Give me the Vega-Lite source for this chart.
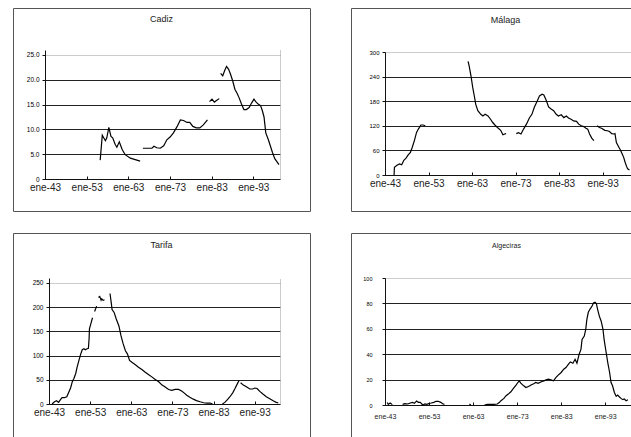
{
  "$schema": "https://vega.github.io/schema/vega-lite/v6.json",
  "padding": {"left": 12, "top": 7, "right": 0, "bottom": 0},
  "bounds": "flush",
  "columns": 2,
  "spacing": {"row": 22, "column": 41},
  "config": {
    "font": "Liberation Sans",
    "view": {"stroke": "#555", "strokeWidth": 1},
    "title": {"font": "Liberation Sans", "fontWeight": "normal", "color": "#222", "anchor": "middle"},
    "axis": {
      "domainColor": "#111", "domainWidth": 1, "tickColor": "#111", "tickWidth": 1,
      "labelFont": "Liberation Sans", "labelColor": "#222", "title": null,
      "gridColor": "#222", "gridWidth": 1
    },
    "line": {"color": "#000", "strokeWidth": 1.2}
  },
  "datasets": {
    "cadiz": [
      {"d": "1956-04-01", "v": 3.8, "s": 1}, {"d": "1956-10-01", "v": 8.8, "s": 1}, {"d": "1957-02-01", "v": 8.3, "s": 1}, {"d": "1957-07-01", "v": 7.7, "s": 1}, {"d": "1957-11-01", "v": 8.3, "s": 1}, {"d": "1958-05-01", "v": 10.4, "s": 1}, {"d": "1958-11-01", "v": 8.6, "s": 1}, {"d": "1959-04-01", "v": 8.3, "s": 1}, {"d": "1959-11-01", "v": 7.0, "s": 1}, {"d": "1960-04-01", "v": 6.4, "s": 1}, {"d": "1960-11-01", "v": 7.5, "s": 1}, {"d": "1961-07-01", "v": 6.0, "s": 1}, {"d": "1962-04-01", "v": 4.9, "s": 1}, {"d": "1963-07-01", "v": 4.2, "s": 1}, {"d": "1964-09-01", "v": 3.9, "s": 1}, {"d": "1965-11-01", "v": 3.6, "s": 1},
      {"d": "1966-07-01", "v": 6.2, "s": 2}, {"d": "1968-09-01", "v": 6.2, "s": 2}, {"d": "1969-03-01", "v": 6.6, "s": 2}, {"d": "1969-11-01", "v": 6.3, "s": 2}, {"d": "1970-09-01", "v": 6.2, "s": 2}, {"d": "1971-07-01", "v": 6.7, "s": 2}, {"d": "1972-04-01", "v": 7.9, "s": 2}, {"d": "1973-02-01", "v": 8.5, "s": 2}, {"d": "1973-11-01", "v": 9.3, "s": 2}, {"d": "1974-09-01", "v": 10.5, "s": 2}, {"d": "1975-07-01", "v": 11.9, "s": 2}, {"d": "1976-04-01", "v": 11.8, "s": 2}, {"d": "1977-02-01", "v": 11.4, "s": 2}, {"d": "1977-10-01", "v": 11.4, "s": 2}, {"d": "1978-07-01", "v": 10.6, "s": 2}, {"d": "1979-05-01", "v": 10.3, "s": 2}, {"d": "1980-03-01", "v": 10.3, "s": 2}, {"d": "1981-01-01", "v": 10.9, "s": 2}, {"d": "1982-01-01", "v": 11.9, "s": 2},
      {"d": "1982-07-01", "v": 15.6, "s": 3}, {"d": "1983-02-01", "v": 16.1, "s": 3}, {"d": "1983-09-01", "v": 15.5, "s": 3}, {"d": "1984-03-01", "v": 15.8, "s": 3}, {"d": "1984-11-01", "v": 16.2, "s": 3},
      {"d": "1985-03-01", "v": 21.3, "s": 4}, {"d": "1985-09-01", "v": 20.8, "s": 4}, {"d": "1986-03-01", "v": 21.9, "s": 4}, {"d": "1986-08-01", "v": 22.7, "s": 4}, {"d": "1987-02-01", "v": 22.1, "s": 4}, {"d": "1987-08-01", "v": 21.0, "s": 4}, {"d": "1988-02-01", "v": 19.7, "s": 4}, {"d": "1988-08-01", "v": 18.1, "s": 4}, {"d": "1989-03-01", "v": 17.2, "s": 4}, {"d": "1989-08-01", "v": 16.4, "s": 4}, {"d": "1990-03-01", "v": 15.1, "s": 4}, {"d": "1990-10-01", "v": 14.0, "s": 4}, {"d": "1991-05-01", "v": 14.0, "s": 4}, {"d": "1992-01-01", "v": 14.4, "s": 4}, {"d": "1992-08-01", "v": 15.3, "s": 4}, {"d": "1993-03-01", "v": 16.1, "s": 4}, {"d": "1993-08-01", "v": 15.6, "s": 4}, {"d": "1994-03-01", "v": 15.1, "s": 4}, {"d": "1994-10-01", "v": 14.8, "s": 4}, {"d": "1995-03-01", "v": 13.8, "s": 4}, {"d": "1995-08-01", "v": 12.5, "s": 4}, {"d": "1996-01-01", "v": 9.3, "s": 4}, {"d": "1996-08-01", "v": 8.0, "s": 4}, {"d": "1997-02-01", "v": 6.7, "s": 4}, {"d": "1997-08-01", "v": 5.4, "s": 4}, {"d": "1998-03-01", "v": 4.1, "s": 4}, {"d": "1998-10-01", "v": 3.4, "s": 4}, {"d": "1999-03-01", "v": 2.9, "s": 4}
    ],
    "malaga": [
      {"d": "1945-02-01", "v": 0, "s": 1}, {"d": "1945-03-01", "v": 19, "s": 1}, {"d": "1945-10-01", "v": 24, "s": 1}, {"d": "1946-05-01", "v": 27, "s": 1}, {"d": "1946-11-01", "v": 25, "s": 1}, {"d": "1947-05-01", "v": 36, "s": 1}, {"d": "1947-11-01", "v": 41, "s": 1}, {"d": "1948-05-01", "v": 49, "s": 1}, {"d": "1948-11-01", "v": 55, "s": 1}, {"d": "1949-04-01", "v": 67, "s": 1}, {"d": "1949-10-01", "v": 84, "s": 1}, {"d": "1950-04-01", "v": 104, "s": 1}, {"d": "1950-09-01", "v": 112, "s": 1}, {"d": "1951-04-01", "v": 122, "s": 1}, {"d": "1951-10-01", "v": 122, "s": 1}, {"d": "1952-04-01", "v": 120, "s": 1},
      {"d": "1962-02-01", "v": 277, "s": 2}, {"d": "1962-05-01", "v": 266, "s": 2}, {"d": "1962-10-01", "v": 242, "s": 2}, {"d": "1963-03-01", "v": 213, "s": 2}, {"d": "1963-08-01", "v": 189, "s": 2}, {"d": "1963-11-01", "v": 173, "s": 2}, {"d": "1964-05-01", "v": 157, "s": 2}, {"d": "1965-01-01", "v": 148, "s": 2}, {"d": "1965-07-01", "v": 144, "s": 2}, {"d": "1966-01-01", "v": 148, "s": 2}, {"d": "1966-09-01", "v": 144, "s": 2}, {"d": "1967-04-01", "v": 136, "s": 2}, {"d": "1967-10-01", "v": 128, "s": 2}, {"d": "1968-04-01", "v": 122, "s": 2}, {"d": "1968-11-01", "v": 116, "s": 2}, {"d": "1969-08-01", "v": 109, "s": 2}, {"d": "1970-02-01", "v": 98, "s": 2}, {"d": "1970-07-01", "v": 100, "s": 2}, {"d": "1970-11-01", "v": 101, "s": 2},
      {"d": "1973-03-01", "v": 101, "s": 3}, {"d": "1973-09-01", "v": 103, "s": 3}, {"d": "1974-04-01", "v": 100, "s": 3}, {"d": "1974-11-01", "v": 112, "s": 3}, {"d": "1975-07-01", "v": 124, "s": 3}, {"d": "1976-03-01", "v": 139, "s": 3}, {"d": "1976-10-01", "v": 148, "s": 3}, {"d": "1977-05-01", "v": 166, "s": 3}, {"d": "1978-01-01", "v": 181, "s": 3}, {"d": "1978-07-01", "v": 193, "s": 3}, {"d": "1979-02-01", "v": 197, "s": 3}, {"d": "1979-07-01", "v": 195, "s": 3}, {"d": "1980-02-01", "v": 181, "s": 3}, {"d": "1980-08-01", "v": 166, "s": 3}, {"d": "1981-03-01", "v": 161, "s": 3}, {"d": "1981-10-01", "v": 157, "s": 3}, {"d": "1982-05-01", "v": 148, "s": 3}, {"d": "1982-11-01", "v": 144, "s": 3}, {"d": "1983-07-01", "v": 147, "s": 3}, {"d": "1984-02-01", "v": 140, "s": 3}, {"d": "1984-09-01", "v": 144, "s": 3}, {"d": "1985-03-01", "v": 139, "s": 3}, {"d": "1985-10-01", "v": 136, "s": 3}, {"d": "1986-05-01", "v": 132, "s": 3}, {"d": "1987-01-01", "v": 131, "s": 3}, {"d": "1987-07-01", "v": 124, "s": 3}, {"d": "1988-02-01", "v": 120, "s": 3}, {"d": "1988-09-01", "v": 118, "s": 3}, {"d": "1989-03-01", "v": 114, "s": 3}, {"d": "1989-08-01", "v": 112, "s": 3}, {"d": "1990-01-01", "v": 100, "s": 3}, {"d": "1990-07-01", "v": 90, "s": 3}, {"d": "1991-01-01", "v": 84, "s": 3},
      {"d": "1991-10-01", "v": 120, "s": 4}, {"d": "1992-04-01", "v": 116, "s": 4}, {"d": "1992-10-01", "v": 114, "s": 4}, {"d": "1993-07-01", "v": 109, "s": 4}, {"d": "1994-02-01", "v": 108, "s": 4}, {"d": "1994-08-01", "v": 106, "s": 4}, {"d": "1995-02-01", "v": 101, "s": 4}, {"d": "1995-08-01", "v": 100, "s": 4}, {"d": "1995-11-01", "v": 101, "s": 4}, {"d": "1996-03-01", "v": 79, "s": 4}, {"d": "1996-09-01", "v": 69, "s": 4}, {"d": "1997-02-01", "v": 61, "s": 4}, {"d": "1997-07-01", "v": 51, "s": 4}, {"d": "1997-11-01", "v": 43, "s": 4}, {"d": "1998-03-01", "v": 31, "s": 4}, {"d": "1998-07-01", "v": 21, "s": 4}, {"d": "1998-10-01", "v": 15, "s": 4}, {"d": "1999-03-01", "v": 12, "s": 4}
    ],
    "tarifa": [
      {"d": "1943-10-01", "v": 0, "s": 1}, {"d": "1944-05-01", "v": 4.6, "s": 1}, {"d": "1944-11-01", "v": 6.6, "s": 1}, {"d": "1945-05-01", "v": 3.3, "s": 1}, {"d": "1945-10-01", "v": 8.6, "s": 1}, {"d": "1946-03-01", "v": 13, "s": 1}, {"d": "1946-10-01", "v": 13, "s": 1}, {"d": "1947-05-01", "v": 15, "s": 1}, {"d": "1947-10-01", "v": 23, "s": 1}, {"d": "1948-04-01", "v": 33, "s": 1}, {"d": "1948-09-01", "v": 46, "s": 1}, {"d": "1949-02-01", "v": 53, "s": 1}, {"d": "1949-07-01", "v": 63, "s": 1}, {"d": "1949-11-01", "v": 76, "s": 1}, {"d": "1950-04-01", "v": 89, "s": 1}, {"d": "1950-09-01", "v": 102, "s": 1}, {"d": "1951-02-01", "v": 112, "s": 1}, {"d": "1951-07-01", "v": 114, "s": 1}, {"d": "1951-11-01", "v": 112, "s": 1}, {"d": "1952-04-01", "v": 114, "s": 1}, {"d": "1952-08-01", "v": 115, "s": 1}, {"d": "1952-10-01", "v": 135, "s": 1}, {"d": "1952-11-01", "v": 155, "s": 1}, {"d": "1953-04-01", "v": 168, "s": 1}, {"d": "1953-08-01", "v": 178, "s": 1},
      {"d": "1954-02-01", "v": 191, "s": 2}, {"d": "1954-08-01", "v": 202, "s": 2},
      {"d": "1955-01-01", "v": 220, "s": 3}, {"d": "1955-05-01", "v": 222, "s": 3}, {"d": "1955-09-01", "v": 214, "s": 3}, {"d": "1955-11-01", "v": 217, "s": 3}, {"d": "1956-03-01", "v": 214, "s": 3}, {"d": "1956-07-01", "v": 215, "s": 3},
      {"d": "1957-11-01", "v": 228, "s": 4}, {"d": "1958-03-01", "v": 207, "s": 4}, {"d": "1958-05-01", "v": 195, "s": 4}, {"d": "1958-11-01", "v": 189, "s": 4}, {"d": "1959-05-01", "v": 176, "s": 4}, {"d": "1960-01-01", "v": 161, "s": 4}, {"d": "1960-07-01", "v": 141, "s": 4}, {"d": "1961-01-01", "v": 125, "s": 4}, {"d": "1961-08-01", "v": 110, "s": 4}, {"d": "1962-02-01", "v": 103, "s": 4}, {"d": "1962-08-01", "v": 90, "s": 4}, {"d": "1963-03-01", "v": 86, "s": 4}, {"d": "1964-01-01", "v": 81, "s": 4}, {"d": "1964-10-01", "v": 76, "s": 4}, {"d": "1965-08-01", "v": 71, "s": 4}, {"d": "1966-05-01", "v": 66, "s": 4}, {"d": "1967-03-01", "v": 61, "s": 4}, {"d": "1968-01-01", "v": 56, "s": 4}, {"d": "1968-10-01", "v": 51, "s": 4}, {"d": "1969-09-01", "v": 46, "s": 4}, {"d": "1970-07-01", "v": 39, "s": 4}, {"d": "1971-04-01", "v": 35, "s": 4}, {"d": "1972-02-01", "v": 30, "s": 4}, {"d": "1972-11-01", "v": 28, "s": 4}, {"d": "1973-09-01", "v": 30, "s": 4}, {"d": "1974-07-01", "v": 30, "s": 4}, {"d": "1975-04-01", "v": 27, "s": 4}, {"d": "1975-11-01", "v": 23, "s": 4}, {"d": "1976-07-01", "v": 18, "s": 4}, {"d": "1977-04-01", "v": 14, "s": 4}, {"d": "1978-02-01", "v": 10, "s": 4}, {"d": "1978-11-01", "v": 7, "s": 4}, {"d": "1979-10-01", "v": 4.6, "s": 4}, {"d": "1980-08-01", "v": 2.6, "s": 4}, {"d": "1981-05-01", "v": 2, "s": 4}, {"d": "1982-03-01", "v": 2, "s": 4}, {"d": "1982-10-01", "v": 0, "s": 4},
      {"d": "1985-03-01", "v": 0, "s": 5}, {"d": "1985-10-01", "v": 3.3, "s": 5}, {"d": "1986-05-01", "v": 8.6, "s": 5}, {"d": "1987-01-01", "v": 15, "s": 5}, {"d": "1987-09-01", "v": 23, "s": 5}, {"d": "1988-03-01", "v": 31, "s": 5}, {"d": "1988-10-01", "v": 41, "s": 5}, {"d": "1989-04-01", "v": 49, "s": 5},
      {"d": "1989-08-01", "v": 44, "s": 6}, {"d": "1990-04-01", "v": 39, "s": 6}, {"d": "1991-02-01", "v": 35, "s": 6}, {"d": "1991-11-01", "v": 31, "s": 6}, {"d": "1992-07-01", "v": 31, "s": 6}, {"d": "1993-02-01", "v": 33, "s": 6}, {"d": "1993-08-01", "v": 32, "s": 6}, {"d": "1994-04-01", "v": 26, "s": 6}, {"d": "1995-02-01", "v": 20, "s": 6}, {"d": "1995-11-01", "v": 15, "s": 6}, {"d": "1996-09-01", "v": 11, "s": 6}, {"d": "1997-07-01", "v": 6.6, "s": 6}, {"d": "1998-04-01", "v": 3.3, "s": 6}, {"d": "1998-10-01", "v": 2, "s": 6}
    ],
    "algeciras": [
      {"d": "1943-07-01", "v": 2, "s": 1}, {"d": "1943-10-01", "v": 0.5, "s": 1}, {"d": "1944-03-01", "v": 1.6, "s": 1}, {"d": "1944-09-01", "v": 0.3, "s": 1},
      {"d": "1947-01-01", "v": 0.5, "s": 2}, {"d": "1947-07-01", "v": 1, "s": 2}, {"d": "1948-03-01", "v": 0.8, "s": 2}, {"d": "1948-10-01", "v": 1.6, "s": 2}, {"d": "1949-04-01", "v": 2.1, "s": 2}, {"d": "1949-09-01", "v": 1.3, "s": 2}, {"d": "1950-03-01", "v": 3.1, "s": 2}, {"d": "1950-08-01", "v": 2.1, "s": 2}, {"d": "1951-01-01", "v": 2.1, "s": 2}, {"d": "1951-08-01", "v": 0, "s": 2}, {"d": "1952-02-01", "v": 0.8, "s": 2}, {"d": "1952-07-01", "v": 0.5, "s": 2}, {"d": "1953-02-01", "v": 1.3, "s": 2}, {"d": "1953-07-01", "v": 1.6, "s": 2}, {"d": "1954-02-01", "v": 2.1, "s": 2}, {"d": "1954-08-01", "v": 2.9, "s": 2}, {"d": "1955-02-01", "v": 2.9, "s": 2}, {"d": "1955-09-01", "v": 2.1, "s": 2}, {"d": "1956-02-01", "v": 1, "s": 2}, {"d": "1956-07-01", "v": 0.5, "s": 2},
      {"d": "1962-03-01", "v": 0.8, "s": 3}, {"d": "1962-07-01", "v": 0, "s": 3},
      {"d": "1965-08-01", "v": 0, "s": 4}, {"d": "1966-04-01", "v": 0.5, "s": 4}, {"d": "1967-02-01", "v": 0.5, "s": 4}, {"d": "1967-10-01", "v": 0.5, "s": 4}, {"d": "1968-07-01", "v": 0.8, "s": 4}, {"d": "1969-01-01", "v": 2.1, "s": 4}, {"d": "1969-05-01", "v": 3.4, "s": 4}, {"d": "1970-01-01", "v": 5.2, "s": 4}, {"d": "1970-07-01", "v": 7.3, "s": 4}, {"d": "1971-01-01", "v": 8.6, "s": 4}, {"d": "1971-08-01", "v": 10.4, "s": 4}, {"d": "1972-03-01", "v": 13, "s": 4}, {"d": "1972-10-01", "v": 15.7, "s": 4}, {"d": "1973-03-01", "v": 17.7, "s": 4}, {"d": "1973-07-01", "v": 19, "s": 4}, {"d": "1973-11-01", "v": 17.2, "s": 4}, {"d": "1974-07-01", "v": 15.1, "s": 4}, {"d": "1975-01-01", "v": 13.8, "s": 4}, {"d": "1975-08-01", "v": 14.6, "s": 4}, {"d": "1976-03-01", "v": 15.7, "s": 4}, {"d": "1976-10-01", "v": 16.7, "s": 4}, {"d": "1977-04-01", "v": 17.7, "s": 4}, {"d": "1977-10-01", "v": 17, "s": 4}, {"d": "1978-07-01", "v": 18.3, "s": 4}, {"d": "1979-02-01", "v": 19, "s": 4}, {"d": "1979-08-01", "v": 19.8, "s": 4}, {"d": "1980-02-01", "v": 20.4, "s": 4}, {"d": "1980-09-01", "v": 19.8, "s": 4}, {"d": "1981-04-01", "v": 19, "s": 4}, {"d": "1981-11-01", "v": 21.7, "s": 4}, {"d": "1982-05-01", "v": 23.5, "s": 4}, {"d": "1983-01-01", "v": 25.6, "s": 4}, {"d": "1983-08-01", "v": 28.2, "s": 4}, {"d": "1984-02-01", "v": 29.5, "s": 4}, {"d": "1984-09-01", "v": 32.1, "s": 4}, {"d": "1985-02-01", "v": 33.9, "s": 4}, {"d": "1985-09-01", "v": 32.9, "s": 4}, {"d": "1986-03-01", "v": 36, "s": 4}, {"d": "1986-08-01", "v": 32.9, "s": 4}, {"d": "1987-02-01", "v": 40, "s": 4}, {"d": "1987-07-01", "v": 43.8, "s": 4}, {"d": "1987-10-01", "v": 51.7, "s": 4}, {"d": "1988-04-01", "v": 54.3, "s": 4}, {"d": "1988-08-01", "v": 59.5, "s": 4}, {"d": "1988-11-01", "v": 67.3, "s": 4}, {"d": "1989-03-01", "v": 73, "s": 4}, {"d": "1989-07-01", "v": 75.2, "s": 4}, {"d": "1989-10-01", "v": 76.5, "s": 4}, {"d": "1990-02-01", "v": 78.3, "s": 4}, {"d": "1990-05-01", "v": 80.4, "s": 4}, {"d": "1990-09-01", "v": 80.9, "s": 4}, {"d": "1991-01-01", "v": 79.9, "s": 4}, {"d": "1991-04-01", "v": 75.7, "s": 4}, {"d": "1991-09-01", "v": 70, "s": 4}, {"d": "1992-02-01", "v": 66, "s": 4}, {"d": "1992-07-01", "v": 59.5, "s": 4}, {"d": "1992-10-01", "v": 51.7, "s": 4}, {"d": "1993-03-01", "v": 42.5, "s": 4}, {"d": "1993-08-01", "v": 33.4, "s": 4}, {"d": "1994-01-01", "v": 25.6, "s": 4}, {"d": "1994-05-01", "v": 17.7, "s": 4}, {"d": "1994-09-01", "v": 15.1, "s": 4}, {"d": "1995-02-01", "v": 9.9, "s": 4}, {"d": "1995-07-01", "v": 6.8, "s": 4}, {"d": "1995-11-01", "v": 7.8, "s": 4}, {"d": "1996-04-01", "v": 6.3, "s": 4}, {"d": "1996-08-01", "v": 5.2, "s": 4}, {"d": "1997-01-01", "v": 4.2, "s": 4}, {"d": "1997-05-01", "v": 4.7, "s": 4}, {"d": "1997-10-01", "v": 3.4, "s": 4}, {"d": "1998-03-01", "v": 4.2, "s": 4}
    ]
  },
  "concat": [
    {
      "width": 297, "height": 203,
      "title": {"text": "Cadiz", "fontSize": 9, "offset": -16},
      "data": {"name": "cadiz"},
      "encoding": {
        "x": {"field": "d", "type": "temporal",
          "scale": {"type": "utc", "domain": [{"year": 1943, "month": 1, "date": 1, "utc": true}, {"year": 1999, "month": 6, "date": 1, "utc": true}], "range": [32, 267]},
          "axis": {"offset": -32, "grid": false, "values": [{"year": 1943, "month": 1, "date": 1, "utc": true}, {"year": 1953, "month": 1, "date": 1, "utc": true}, {"year": 1963, "month": 1, "date": 1, "utc": true}, {"year": 1973, "month": 1, "date": 1, "utc": true}, {"year": 1983, "month": 1, "date": 1, "utc": true}, {"year": 1993, "month": 1, "date": 1, "utc": true}],
            "labelExpr": "'ene-' + utcFormat(datum.value, '%y')", "labelFontSize": 10, "tickSize": -3, "labelPadding": 6, "labelFlush": false, "labelOverlap": false}},
        "detail": {"field": "s", "type": "nominal"}
      },
      "layer": [
        {"mark": {"type": "line"},
         "encoding": {"y": {"field": "v", "type": "quantitative",
           "scale": {"domain": [0, 25], "range": [171, 42]},
           "axis": {"orient": "left", "offset": -32, "values": [0, 5, 10, 15, 20, 25], "labelExpr": "datum.value == 0 ? '0' : format(datum.value, '.1f')", "labelFontSize": 6.5, "labelColor": "#000", "tickSize": 3, "labelPadding": 3,
             "gridColor": {"condition": {"test": "datum.value == 25", "value": "#999"}, "value": "#222"},
             "gridDash": {"condition": {"test": "datum.value == 25", "value": [1, 1]}, "value": []}}}}},
        {"mark": {"type": "line", "opacity": 0},
         "encoding": {"y": {"field": "v", "type": "quantitative",
           "axis": {"orient": "right", "offset": -30, "labels": false, "ticks": false, "grid": false, "domainColor": "#999", "domainDash": [1, 1]}}}}
      ],
      "resolve": {"axis": {"y": "independent"}}
    },
    {
      "width": 281, "height": 203,
      "title": {"text": "Málaga", "fontSize": 9, "offset": -17, "dx": 14},
      "data": {"name": "malaga"},
      "mark": {"type": "line"},
      "encoding": {
        "x": {"field": "d", "type": "temporal",
          "scale": {"type": "utc", "domain": [{"year": 1943, "month": 1, "date": 1, "utc": true}, {"year": 1999, "month": 10, "date": 1, "utc": true}], "range": [34, 281]},
          "axis": {"offset": -36, "grid": false, "values": [{"year": 1943, "month": 1, "date": 1, "utc": true}, {"year": 1953, "month": 1, "date": 1, "utc": true}, {"year": 1963, "month": 1, "date": 1, "utc": true}, {"year": 1973, "month": 1, "date": 1, "utc": true}, {"year": 1983, "month": 1, "date": 1, "utc": true}, {"year": 1993, "month": 1, "date": 1, "utc": true}],
            "labelExpr": "'ene-' + utcFormat(datum.value, '%y')", "labelFontSize": 10, "tickSize": -3, "labelPadding": 6, "labelFlush": false, "labelOverlap": false}},
        "y": {"field": "v", "type": "quantitative",
          "scale": {"domain": [0, 300], "range": [167, 44]},
          "axis": {"orient": "left", "offset": -34, "values": [0, 60, 120, 180, 240, 300], "labelFontSize": 6, "labelColor": "#000", "tickSize": 3, "labelPadding": 3,
            "gridColor": {"condition": {"test": "datum.value == 300", "value": "#999"}, "value": "#222"},
            "gridDash": {"condition": {"test": "datum.value == 300", "value": [1, 1]}, "value": []}}},
        "detail": {"field": "s", "type": "nominal"}
      }
    },
    {
      "width": 297, "height": 205,
      "title": {"text": "Tarifa", "fontSize": 9, "offset": -17},
      "data": {"name": "tarifa"},
      "encoding": {
        "x": {"field": "d", "type": "temporal",
          "scale": {"type": "utc", "domain": [{"year": 1943, "month": 1, "date": 1, "utc": true}, {"year": 1999, "month": 3, "date": 1, "utc": true}], "range": [36, 267]},
          "axis": {"offset": -34, "grid": false, "values": [{"year": 1943, "month": 1, "date": 1, "utc": true}, {"year": 1953, "month": 1, "date": 1, "utc": true}, {"year": 1963, "month": 1, "date": 1, "utc": true}, {"year": 1973, "month": 1, "date": 1, "utc": true}, {"year": 1983, "month": 1, "date": 1, "utc": true}, {"year": 1993, "month": 1, "date": 1, "utc": true}],
            "labelExpr": "'ene-' + utcFormat(datum.value, '%y')", "labelFontSize": 10, "tickSize": -3, "labelPadding": 6, "labelFlush": false, "labelOverlap": false}},
        "detail": {"field": "s", "type": "nominal"}
      },
      "layer": [
        {"mark": {"type": "line"},
         "encoding": {"y": {"field": "v", "type": "quantitative",
           "scale": {"domain": [0, 250], "range": [171, 45]},
           "axis": {"orient": "left", "offset": -36, "values": [0, 50, 100, 150, 200, 250], "labelFontSize": 6.5, "labelColor": "#000", "tickSize": 3, "labelPadding": 3,
             "gridColor": {"condition": {"test": "datum.value == 250", "value": "#999"}, "value": "#222"},
             "gridDash": {"condition": {"test": "datum.value == 250", "value": [1, 1]}, "value": []}}}}},
        {"mark": {"type": "line", "opacity": 0},
         "encoding": {"y": {"field": "v", "type": "quantitative",
           "axis": {"orient": "right", "offset": -30, "labels": false, "ticks": false, "grid": false, "domainColor": "#999", "domainDash": [1, 1]}}}}
      ],
      "resolve": {"axis": {"y": "independent"}}
    },
    {
      "width": 281, "height": 205,
      "title": {"text": "Algeciras", "fontSize": 7, "offset": -16, "dx": 15},
      "data": {"name": "algeciras"},
      "mark": {"type": "line"},
      "encoding": {
        "x": {"field": "d", "type": "temporal",
          "scale": {"type": "utc", "domain": [{"year": 1943, "month": 1, "date": 1, "utc": true}, {"year": 1999, "month": 2, "date": 1, "utc": true}], "range": [34, 281]},
          "axis": {"offset": -33, "grid": false, "values": [{"year": 1943, "month": 1, "date": 1, "utc": true}, {"year": 1953, "month": 1, "date": 1, "utc": true}, {"year": 1963, "month": 1, "date": 1, "utc": true}, {"year": 1973, "month": 1, "date": 1, "utc": true}, {"year": 1983, "month": 1, "date": 1, "utc": true}, {"year": 1993, "month": 1, "date": 1, "utc": true}],
            "labelExpr": "'ene-' + utcFormat(datum.value, '%y')", "labelFontSize": 7, "tickSize": -3, "labelPadding": 10, "labelFlush": false, "labelOverlap": false}},
        "y": {"field": "v", "type": "quantitative",
          "scale": {"domain": [0, 100], "range": [172, 45]},
          "axis": {"orient": "left", "offset": -34, "values": [0, 20, 40, 60, 80, 100], "labelFontSize": 5.5, "labelColor": "#000", "tickSize": 3, "labelPadding": 10,
            "gridColor": {"condition": {"test": "datum.value == 100", "value": "#999"}, "value": "#222"},
            "gridDash": {"condition": {"test": "datum.value == 100", "value": [1, 1]}, "value": []}}},
        "detail": {"field": "s", "type": "nominal"}
      }
    }
  ]
}
